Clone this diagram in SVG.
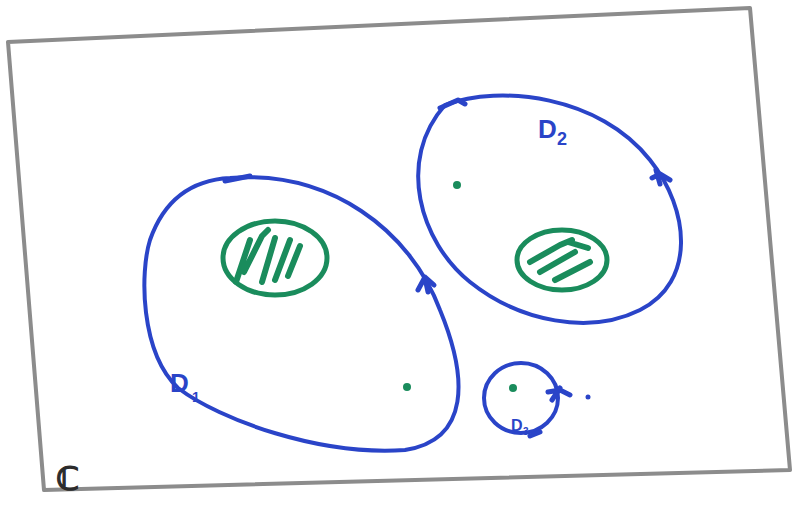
<svg xmlns="http://www.w3.org/2000/svg" width="794" height="518" viewBox="0 0 794 518">
<style>
.frame{fill:none;stroke:#8c8c8c;stroke-width:4;stroke-linecap:round;stroke-linejoin:round}
.dom{fill:none;stroke:#2a44c8;stroke-width:4;stroke-linecap:round;stroke-linejoin:round}
.tick{fill:none;stroke:#2a44c8;stroke-width:5;stroke-linecap:round;stroke-linejoin:round}
.hole{fill:none;stroke:#1a8c5c;stroke-width:5;stroke-linecap:round;stroke-linejoin:round}
.hatch{fill:none;stroke:#1a8c5c;stroke-width:6;stroke-linecap:round;stroke-linejoin:round}
.pt{fill:#1a8c5c}
.lbl{font-family:"Liberation Sans",Arial,sans-serif;font-weight:bold;fill:#2a44c8}
</style>
<rect width="794" height="518" fill="#ffffff"/>
<g id="frame">
<path class="frame" d="M8 42 L750 8 L790 470 L44 490 Z"/>
<text x="56" y="490" font-family="DejaVu Sans, sans-serif" font-size="32" font-weight="bold" fill="#2b2b2b" stroke="#2b2b2b" stroke-width="1.2">ℂ</text>
</g>
<g id="D1">
<path class="dom" d="M230 178 C330 170 410 230 440 310 C468 378 470 440 405 450 C320 456 220 420 178 388 C140 352 140 272 150 240 C164 200 192 180 230 178 Z"/>
<path class="tick" d="M225 181 L250 176"/>
<path class="tick" d="M418 290 L425 277 L434 285 M425 278 L428 292"/>
<text class="lbl" x="170" y="392" font-size="26">D</text>
<text class="lbl" x="192" y="402" font-size="14">1</text>
<ellipse class="hole" cx="275" cy="258" rx="52" ry="37"/>
<path class="hatch" d="M236 282 L250 240 M244 272 L262 236 L268 230 M262 282 L275 238 M275 280 L290 240 M288 276 L300 246"/>
<circle class="pt" cx="407" cy="387" r="4"/>
</g>
<g id="D2">
<path class="dom" d="M445 105 C500 84 600 96 650 160 C690 210 696 282 640 310 C590 335 520 322 470 282 C420 242 396 160 445 105 Z"/>
<path class="tick" d="M440 108 L458 100 L465 104"/>
<path class="tick" d="M652 178 L660 174 L670 180 M656 170 L660 184"/>
<text class="lbl" x="538" y="138" font-size="26">D</text>
<text class="lbl" x="557" y="145" font-size="18">2</text>
<ellipse class="hole" cx="562" cy="260" rx="45" ry="30"/>
<path class="hatch" d="M530 262 L560 245 L572 240 M540 272 L575 252 M555 280 L590 262 M568 242 L588 248"/>
<circle class="pt" cx="457" cy="185" r="4"/>
</g>
<g id="D3">
<ellipse class="dom" cx="521" cy="398" rx="37" ry="35"/>
<path class="tick" d="M548 392 L560 390 L570 395 M552 400 L560 388"/>
<path class="tick" d="M530 436 L540 432"/>
<text class="lbl" x="511" y="431" font-size="16">D</text>
<text class="lbl" x="523" y="435" font-size="10">3</text>
<circle class="pt" cx="513" cy="388" r="4"/>
<circle cx="588" cy="397" r="2.5" fill="#2a44c8"/>
</g>
</svg>
